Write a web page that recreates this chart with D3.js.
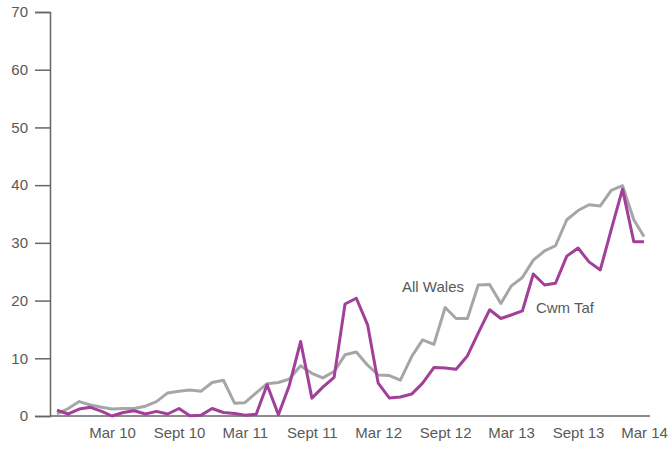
<!DOCTYPE html>
<html>
<head>
<meta charset="utf-8">
<script src="https://cdn.jsdelivr.net/npm/d3@7"></script>
<style>
  body { margin: 0; background: #fff; }
  text { font-family: "Liberation Sans", Arial, sans-serif; }
</style>
</head>
<body>
<div id="chart"></div>
<script>
// monthly series, Oct 2009 .. Mar 2014
const months = d3.timeMonth.range(new Date(2009, 9, 1), new Date(2014, 3, 1))

const allWales = [0.35, 1.3, 2.5, 1.9, 1.5, 1.2, 1.3, 1.3, 1.7, 2.5,
  4.0, 4.3, 4.5, 4.3, 5.8, 6.2, 2.2, 2.3, 4.0, 5.6,
  5.8, 6.4, 8.7, 7.4, 6.6, 7.7, 10.6, 11.1, 8.8, 7.1,
  7.0, 6.2, 10.3, 13.2, 12.4, 18.8, 16.9, 16.9, 22.7, 22.8,
  19.5, 22.5, 24.0, 27.0, 28.6, 29.5, 34.0, 35.6, 36.6, 36.4,
  39.1, 39.9, 34.0, 31.1]

const cwmTaf = [1.0, 0.35, 1.2, 1.5, 0.8, 0.0, 0.6, 0.9, 0.35, 0.8,
  0.35, 1.3, 0.05, 0.15, 1.3, 0.6, 0.45, 0.15, 0.3, 5.4,
  0.2, 5.3, 12.9, 3.1, 5.0, 6.7, 19.4, 20.4, 15.8, 5.7,
  3.1, 3.3, 3.8, 5.7, 8.4, 8.3, 8.1, 10.4, 14.4, 18.4,
  16.9, 17.5, 18.2, 24.6, 22.7, 23.0, 27.7, 29.1, 26.7, 25.3,
  32.3, 39.3, 30.2, 30.2]

const yTicks = [0, 10, 20, 30, 40, 50, 60, 70]
const xTickMonths = [2, 8] // Mar, Sept
const monthNames = {2: "Mar", 8: "Sept"}

const width = 670, height = 450
const svg = d3.select("#chart").append("svg").attr("width", width).attr("height", height)

const x = d3.scaleTime().domain([months[0], months[months.length - 1]]).range([57, 644])
const y = d3.scaleLinear().domain([0, 70]).range([416, 12])

const axisColor = "#666"
const textColor = "#595959"
const fontSize = "15px"

// y axis
const yAxis = svg.append("g").attr("transform", "translate(50,0)")
  .call(d3.axisLeft(y).tickValues(yTicks).tickSize(15).tickPadding(7))
yAxis.select(".domain").attr("stroke", axisColor).attr("stroke-width", 1.5)
yAxis.selectAll(".tick line").attr("stroke", axisColor).attr("stroke-width", 1.5)
yAxis.selectAll("text").attr("fill", textColor).style("font-size", fontSize)

// x axis
const xAxis = svg.append("g").attr("transform", "translate(0,416)")
  .call(d3.axisBottom(x)
    .tickValues(months.filter(m => xTickMonths.includes(m.getMonth())))
    .tickFormat(m => monthNames[m.getMonth()] + " " + d3.timeFormat("%y")(m))
    .tickSize(0).tickPadding(11))
xAxis.select(".domain").attr("d", "M50,0H650").attr("stroke", axisColor).attr("stroke-width", 1.5)
xAxis.selectAll("text").attr("fill", textColor).style("font-size", fontSize)

const line = d3.line().x((d, i) => x(months[i])).y(d => y(d))

svg.append("path").datum(allWales).attr("d", line)
  .attr("fill", "none").attr("stroke", "#a6a6a6").attr("stroke-width", 3).attr("stroke-linejoin", "round")
svg.append("path").datum(cwmTaf).attr("d", line)
  .attr("fill", "none").attr("stroke", "#a23f98").attr("stroke-width", 3).attr("stroke-linejoin", "round")

// series labels
svg.append("text").attr("x", 433).attr("y", 292).attr("text-anchor", "middle")
  .attr("fill", textColor).style("font-size", fontSize).text("All Wales")
svg.append("text").attr("x", 565).attr("y", 313).attr("text-anchor", "middle")
  .attr("fill", textColor).style("font-size", fontSize).text("Cwm Taf")
</script>
</body>
</html>
